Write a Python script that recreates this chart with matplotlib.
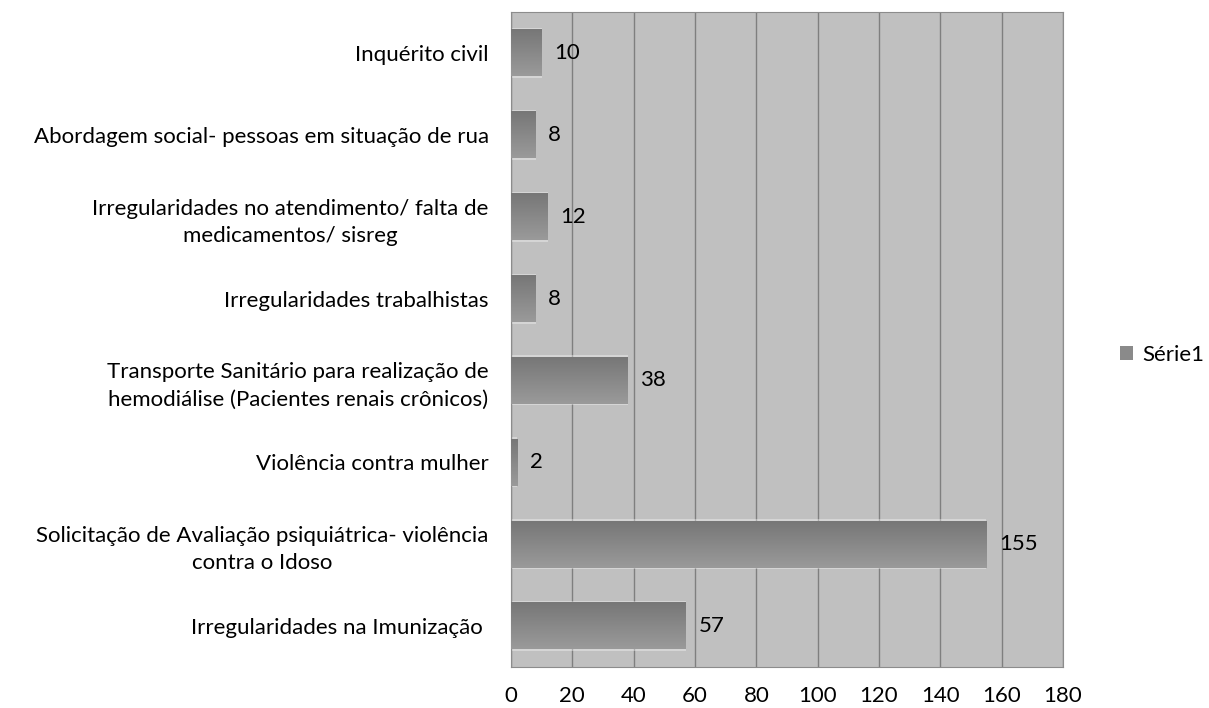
import numpy as np
import matplotlib
matplotlib.use("Agg")
import matplotlib.pyplot as plt
from matplotlib.patches import Patch

categories = [
    "Irregularidades na Imunização ",
    "Solicitação de Avaliação psiquiátrica- violência\ncontra o Idoso",
    "Violência contra mulher",
    "Transporte Sanitário para realização de\nhemodiálise (Pacientes renais crônicos)",
    "Irregularidades trabalhistas",
    "Irregularidades no atendimento/ falta de\nmedicamentos/ sisreg",
    "Abordagem social- pessoas em situação de rua",
    "Inquérito civil",
]
values = [57, 155, 2, 38, 8, 12, 8, 10]
xticks = [0, 20, 40, 60, 80, 100, 120, 140, 160, 180]
series_name = "Série1"

plt.rcParams["font.family"] = ["Lato", "DejaVu Sans"]
fs = 16

fig = plt.figure(figsize=(12.09, 7.08), dpi=100)
ax = fig.add_axes([511 / 1209, 1 - 667 / 708, 552 / 1209, 655 / 708])
ax.set_facecolor("#c0c0c0")

bar_h = 0.57
grad = np.linspace(0, 1, 64).reshape(-1, 1)
cmap = matplotlib.colors.LinearSegmentedColormap.from_list("g", ["#777777", "#9a9a9a"])
for i, v in enumerate(values):
    # soft white glow behind the bar
    ax.barh(i, v, height=bar_h + 0.04, color="white", alpha=0.35, zorder=2)
    ax.imshow(grad, cmap=cmap, aspect="auto", zorder=3,
              extent=(0, v, i - bar_h / 2, i + bar_h / 2), origin="upper")
    ax.annotate(str(v), (v, i), xytext=(9, 0), textcoords="offset points",
                va="center", ha="left", fontsize=fs, zorder=4)

ax.set_xlim(0, 180)
ax.set_ylim(-0.5, len(values) - 0.5)
ax.set_xticks(xticks)
ax.set_xticklabels([str(t) for t in xticks], fontsize=fs)
ax.set_yticks(range(len(categories)))
ax.set_yticklabels(categories, fontsize=fs, ha="right", multialignment="center",
                   linespacing=1.45)
ax.tick_params(length=0)
ax.tick_params(axis="x", pad=14)
ax.tick_params(axis="y", pad=16)
ax.grid(axis="x", color="#7f7f7f", linewidth=1)
ax.set_axisbelow(True)
for s in ax.spines.values():
    s.set_color("#8c8c8c")

fig.legend(handles=[Patch(facecolor="#8a8a8a", label=series_name)],
           loc="center left", bbox_to_anchor=(1120 / 1209, 1 - 355 / 708),
           frameon=False, fontsize=fs, handlelength=0.6, handleheight=0.6,
           handletextpad=0.4, borderpad=0, borderaxespad=0)

fig.savefig("out.png", dpi=100)
